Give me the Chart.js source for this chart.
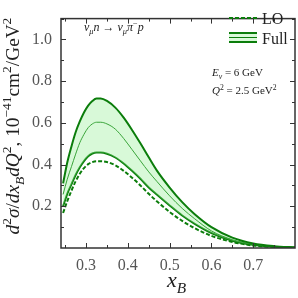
<!DOCTYPE html>
<html lang="en">
<head>
  <meta charset="UTF-8">
  <title>Cross section vs xB</title>
  <script src="https://cdn.jsdelivr.net/npm/chart.js"></script>
  <style>
    body { margin: 0; background: #fff; }
    canvas { display: block; }
  </style>
</head>
<body>
  <canvas id="xsec" width="298" height="298"></canvas>

  <script>
    // x_B sampling points
    const xB = [0.245, 0.255, 0.265, 0.275, 0.285, 0.295, 0.305, 0.315, 0.325, 0.335,
                0.35, 0.37, 0.39, 0.41, 0.43, 0.45, 0.47, 0.5, 0.53, 0.56, 0.6, 0.65, 0.7, 0.75, 0.8];
    // Full result: upper edge, central value, lower edge of the band
    const fullUpper = [0.31, 0.41, 0.487, 0.555, 0.607, 0.65, 0.683, 0.705, 0.717, 0.717,
                       0.705, 0.673, 0.625, 0.566, 0.502, 0.435, 0.37, 0.29, 0.22, 0.162, 0.10, 0.05, 0.022, 0.009, 0.003];
    const fullMid   = [0.257, 0.33, 0.39, 0.45, 0.505, 0.545, 0.577, 0.595, 0.603, 0.603,
                       0.595, 0.57, 0.525, 0.472, 0.418, 0.365, 0.318, 0.25, 0.19, 0.14, 0.082, 0.04, 0.018, 0.007, 0.002];
    const fullLower = [0.2, 0.26, 0.305, 0.35, 0.387, 0.417, 0.44, 0.453, 0.458, 0.458,
                       0.452, 0.434, 0.405, 0.37, 0.332, 0.29, 0.255, 0.204, 0.156, 0.116, 0.072, 0.035, 0.015, 0.006, 0.002];
    // leading order
    const lo        = [0.168, 0.225, 0.275, 0.32, 0.356, 0.383, 0.402, 0.412, 0.416, 0.416,
                       0.412, 0.397, 0.37, 0.337, 0.3, 0.26, 0.223, 0.173, 0.13, 0.095, 0.058, 0.029, 0.012, 0.005, 0.001];

    const xTicks = [0.3, 0.4, 0.5, 0.6, 0.7];
    const yTicks = [0.2, 0.4, 0.6, 0.8, 1.0];

    const GREEN = '#0b7d0b';
    const SERIF = '"Liberation Serif", "DejaVu Serif", serif';

    const pts = ys => xB.map((x, i) => ({ x: x, y: ys[i] }));

    // draw a run of text pieces: i = italic, sup / sub = small raised / lowered
    function rich(ctx, segs, x, y, size, draw) {
      let cx = x;
      segs.forEach(s => {
        let sz = size, dy = 0;
        if (s.sup) { sz = size * 0.7; dy = -size * 0.4; }
        if (s.sub) { sz = size * 0.7; dy = size * 0.25; }
        ctx.font = (s.i ? 'italic ' : '') + sz + 'px ' + SERIF;
        if (draw) ctx.fillText(s.t, cx, y + dy);
        cx += ctx.measureText(s.t).width;
      });
      return cx - x;
    }

    const yTitle = [
      { t: 'd', i: 1 }, { t: '2', sup: 1 }, { t: 'σ', i: 1 }, { t: '/' },
      { t: 'dx', i: 1 }, { t: 'B', i: 1, sub: 1 }, { t: 'dQ', i: 1 }, { t: '2', sup: 1 },
      { t: ', 10' }, { t: '−41', sup: 1 }, { t: 'cm' }, { t: '2', sup: 1 },
      { t: '/GeV' }, { t: '2', sup: 1 }
    ];
    const procText = [
      { t: 'ν', i: 1 }, { t: 'μ', i: 1, sub: 1 }, { t: 'n', i: 1 }, { t: ' → ' },
      { t: 'ν', i: 1 }, { t: 'μ', i: 1, sub: 1 }, { t: 'π', i: 1 }, { t: '−', sup: 1 }, { t: 'p', i: 1 }
    ];
    const eText = [{ t: 'E', i: 1 }, { t: 'ν', i: 1, sub: 1 }, { t: ' = 6 GeV' }];
    const qText = [{ t: 'Q', i: 1 }, { t: '2', sup: 1 }, { t: ' = 2.5 GeV' }, { t: '2', sup: 1 }];

    const decor = {
      id: 'decor',
      afterDraw(chart) {
        const ctx = chart.ctx;
        const a = chart.chartArea;
        const xs = chart.scales.x, ys = chart.scales.y;
        ctx.save();

        // frame + inward ticks
        ctx.strokeStyle = '#333';
        ctx.lineWidth = 1;
        ctx.beginPath();
        for (let v = 0.25; v < 0.8; v += 0.05) {
          const px = Math.round(xs.getPixelForValue(v)) + 0.5;
          const len = Math.abs(v * 10 - Math.round(v * 10)) < 1e-6 ? 5 : 3;
          ctx.moveTo(px, a.bottom); ctx.lineTo(px, a.bottom - len);
          ctx.moveTo(px, a.top); ctx.lineTo(px, a.top + len);
        }
        for (let v = 0.1; v < 1.1; v += 0.1) {
          const py = Math.round(ys.getPixelForValue(v)) + 0.5;
          const len = Math.round(v * 10) % 2 === 0 ? 5 : 3;
          ctx.moveTo(a.left, py); ctx.lineTo(a.left + len, py);
          ctx.moveTo(a.right, py); ctx.lineTo(a.right - len, py);
        }
        ctx.stroke();
        ctx.lineWidth = 1.5;
        ctx.strokeRect(a.left, a.top, a.right - a.left, a.bottom - a.top);

        ctx.fillStyle = '#222';
        ctx.textBaseline = 'alphabetic';
        ctx.textAlign = 'left';

        // annotations
        rich(ctx, procText, 84, 31, 12, true);
        rich(ctx, eText, 212, 76, 11, true);
        rich(ctx, qText, 212, 94, 11, true);

        // legend
        ctx.strokeStyle = GREEN;
        ctx.lineWidth = 2;
        ctx.setLineDash([4, 2]);
        ctx.beginPath(); ctx.moveTo(229, 18); ctx.lineTo(257, 18); ctx.stroke();
        ctx.setLineDash([]);
        ctx.fillStyle = 'rgba(144, 238, 144, 0.35)';
        ctx.fillRect(229, 32, 28, 11);
        ctx.beginPath(); ctx.moveTo(229, 33); ctx.lineTo(257, 33);
        ctx.moveTo(229, 42); ctx.lineTo(257, 42); ctx.stroke();
        ctx.lineWidth = 1;
        ctx.beginPath(); ctx.moveTo(229, 37.5); ctx.lineTo(257, 37.5); ctx.stroke();
        ctx.fillStyle = '#222';
        ctx.font = '16px ' + SERIF;
        ctx.fillText('LO', 262, 24);
        ctx.fillText('Full', 262, 44);

        // x title
        rich(ctx, [{ t: 'x', i: 1 }, { t: 'B', i: 1, sub: 1 }], 167, 287, 22, true);

        // y title, rotated, fitted to its span
        const want = 217;
        const w = rich(ctx, yTitle, 0, 0, 20, false);
        const size = 20 * want / w;
        ctx.translate(19, 126 + want / 2);
        ctx.rotate(-Math.PI / 2);
        rich(ctx, yTitle, 0, 0, size, true);

        ctx.restore();
      }
    };

    new Chart(document.getElementById('xsec'), {
      type: 'line',
      data: {
        datasets: [
          { data: pts(fullUpper), borderColor: GREEN, borderWidth: 2,
            fill: { target: 2 }, backgroundColor: 'rgba(144, 238, 144, 0.35)' },
          { data: pts(fullMid), borderColor: GREEN, borderWidth: 1, fill: false },
          { data: pts(fullLower), borderColor: GREEN, borderWidth: 2, fill: false },
          { data: pts(lo), borderColor: GREEN, borderWidth: 2, borderDash: [4, 2], fill: false }
        ]
      },
      options: {
        responsive: false,
        animation: false,
        layout: { padding: { top: 7, right: 3, left: 0, bottom: 0 } },
        elements: {
          point: { radius: 0 },
          line: { cubicInterpolationMode: 'monotone' }
        },
        plugins: { legend: { display: false }, tooltip: { enabled: false } },
        scales: {
          x: {
            type: 'linear', min: 0.24, max: 0.8,
            grid: { display: false, drawTicks: false },
            border: { display: false },
            afterBuildTicks: s => { s.ticks = xTicks.map(v => ({ value: v })); },
            afterFit: s => { s.height = 50; },
            ticks: {
              padding: 8, color: '#555', maxRotation: 0,
              font: { family: SERIF, size: 16 },
              callback: v => v.toFixed(1)
            }
          },
          y: {
            type: 'linear', min: 0, max: 1.1,
            grid: { display: false, drawTicks: false },
            border: { display: false },
            afterBuildTicks: s => { s.ticks = yTicks.map(v => ({ value: v })); },
            afterFit: s => { s.width = 61; },
            ticks: {
              padding: 9, color: '#555',
              font: { family: SERIF, size: 16 },
              callback: v => v.toFixed(1)
            }
          }
        }
      },
      plugins: [decor]
    });
  </script>
</body>
</html>
